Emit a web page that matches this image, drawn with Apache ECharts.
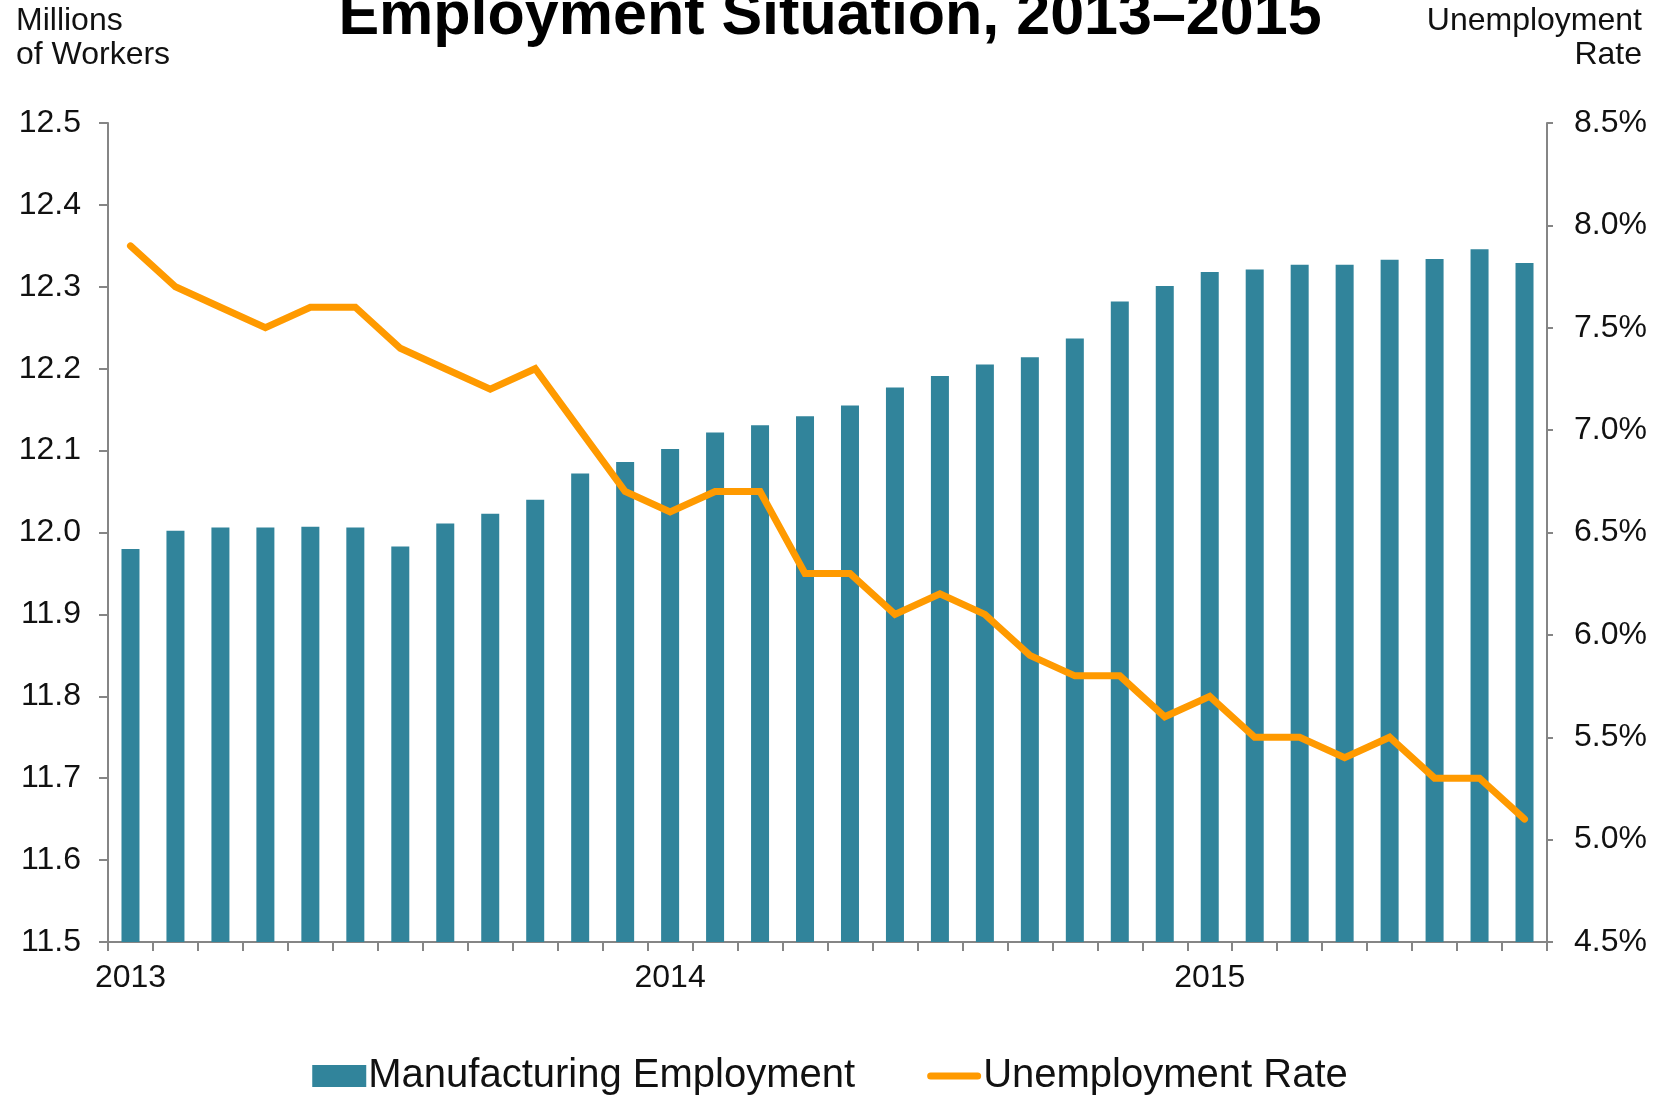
<!DOCTYPE html>
<html>
<head>
<meta charset="utf-8">
<title>Employment Situation, 2013–2015</title>
<script src="https://cdn.jsdelivr.net/npm/echarts@6/dist/echarts.min.js"></script>
<style>
  html, body { margin: 0; padding: 0; background: #fff; }
  #chart { width: 1660px; height: 1098px; }
</style>
</head>
<body>
<div id="chart"></div>
<script>
// monthly, Jan 2013 .. Aug 2015
const months = [
  '2013-01', '2013-02', '2013-03', '2013-04', '2013-05', '2013-06',
  '2013-07', '2013-08', '2013-09', '2013-10', '2013-11', '2013-12',
  '2014-01', '2014-02', '2014-03', '2014-04', '2014-05', '2014-06',
  '2014-07', '2014-08', '2014-09', '2014-10', '2014-11', '2014-12',
  '2015-01', '2015-02', '2015-03', '2015-04', '2015-05', '2015-06',
  '2015-07', '2015-08'
];

// millions of workers
const manufacturing = [
  11.980, 12.002, 12.006, 12.006, 12.007, 12.006,
  11.983, 12.011, 12.023, 12.040, 12.072, 12.086,
  12.102, 12.122, 12.131, 12.142, 12.155, 12.177,
  12.191, 12.205, 12.214, 12.237, 12.282, 12.301,
  12.318, 12.321, 12.327, 12.327, 12.333, 12.334,
  12.346, 12.329
];

// percent
const unemployment = [
  7.9, 7.7, 7.6, 7.5, 7.6, 7.6,
  7.4, 7.3, 7.2, 7.3, 7.0, 6.7,
  6.6, 6.7, 6.7, 6.3, 6.3, 6.1,
  6.2, 6.1, 5.9, 5.8, 5.8, 5.6,
  5.7, 5.5, 5.5, 5.4, 5.5, 5.3,
  5.3, 5.1
];

const FONT = '"Liberation Sans", Arial, sans-serif';
const AXIS_GREY = '#858585';
const TEAL = '#31849B';
const ORANGE = '#FF9A00';

const chart = echarts.init(document.getElementById('chart'));

// axis captions, one text per line so the right one can be right-aligned
function caption(text, side, top) {
  const el = {
    type: 'text',
    top: top,
    style: { text: text, font: '32px ' + FONT, fill: '#111' }
  };
  el[side] = side === 'left' ? 16 : 18;
  return el;
}

const option = {
  backgroundColor: '#fff',
  animation: false,
  title: {
    text: 'Employment Situation, 2013–2015',
    left: 'center',
    top: -18,
    textStyle: { fontFamily: FONT, fontSize: 61, fontWeight: 'bold', color: '#000' }
  },
  graphic: [
    caption('Millions', 'left', 5),
    caption('of Workers', 'left', 39),
    caption('Unemployment', 'right', 5),
    caption('Rate', 'right', 39)
  ],
  legend: {
    top: 1050,
    left: 'center',
    itemWidth: 54,
    itemHeight: 22,
    itemGap: 72,
    symbolKeepAspect: true,
    textStyle: { fontFamily: FONT, fontSize: 40, color: '#111', lineHeight: 42, padding: [0, 0, 0, -3] },
    data: [
      { name: 'Manufacturing Employment', icon: 'rect' },
      {
        name: 'Unemployment Rate',
        icon: 'path://M3.5,0 H50.5 A3.5,3.5 0 0 1 50.5,7 H3.5 A3.5,3.5 0 0 1 3.5,0 Z',
        itemStyle: { color: ORANGE }
      }
    ]
  },
  grid: {
    left: 108,
    right: 113,
    top: 123,
    bottom: 156,
    containLabel: false,
    outerBoundsMode: 'none'
  },
  xAxis: {
    type: 'category',
    data: months,
    boundaryGap: true,
    axisLine: { lineStyle: { color: AXIS_GREY, width: 2 } },
    axisTick: { show: true, interval: 0, length: 9, lineStyle: { color: AXIS_GREY, width: 2 } },
    axisLabel: {
      interval: 0,
      margin: 20,
      fontFamily: FONT,
      fontSize: 32,
      color: '#111',
      formatter: function (value) {
        return value.slice(5) === '01' ? value.slice(0, 4) : '';
      }
    },
    splitLine: { show: false }
  },
  yAxis: [
    {
      type: 'value',
      min: 11.5,
      max: 12.5,
      interval: 0.1,
      axisLine: { show: true, lineStyle: { color: AXIS_GREY, width: 2 } },
      axisTick: { show: true, length: 9, lineStyle: { color: AXIS_GREY, width: 2 } },
      axisLabel: {
        margin: 27,
        fontFamily: FONT,
        fontSize: 32,
        color: '#111',
        formatter: function (v) { return v.toFixed(1); }
      },
      splitLine: { show: false }
    },
    {
      type: 'value',
      min: 4.5,
      max: 8.5,
      interval: 0.5,
      position: 'right',
      axisLine: { show: true, lineStyle: { color: AXIS_GREY, width: 2 } },
      axisTick: { show: true, length: 6, lineStyle: { color: AXIS_GREY, width: 2 } },
      axisLabel: {
        margin: 27,
        fontFamily: FONT,
        fontSize: 32,
        color: '#111',
        formatter: function (v) { return v.toFixed(1) + '%'; }
      },
      splitLine: { show: false }
    }
  ],
  series: [
    {
      name: 'Manufacturing Employment',
      type: 'bar',
      yAxisIndex: 0,
      barWidth: 18,
      itemStyle: { color: TEAL },
      data: manufacturing
    },
    {
      name: 'Unemployment Rate',
      type: 'line',
      yAxisIndex: 1,
      symbol: 'none',
      lineStyle: { color: ORANGE, width: 7, cap: 'round', join: 'miter' },
      itemStyle: { color: ORANGE },
      data: unemployment
    }
  ]
};

chart.setOption(option);

window.addEventListener('resize', chart.resize);
</script>
</body>
</html>
